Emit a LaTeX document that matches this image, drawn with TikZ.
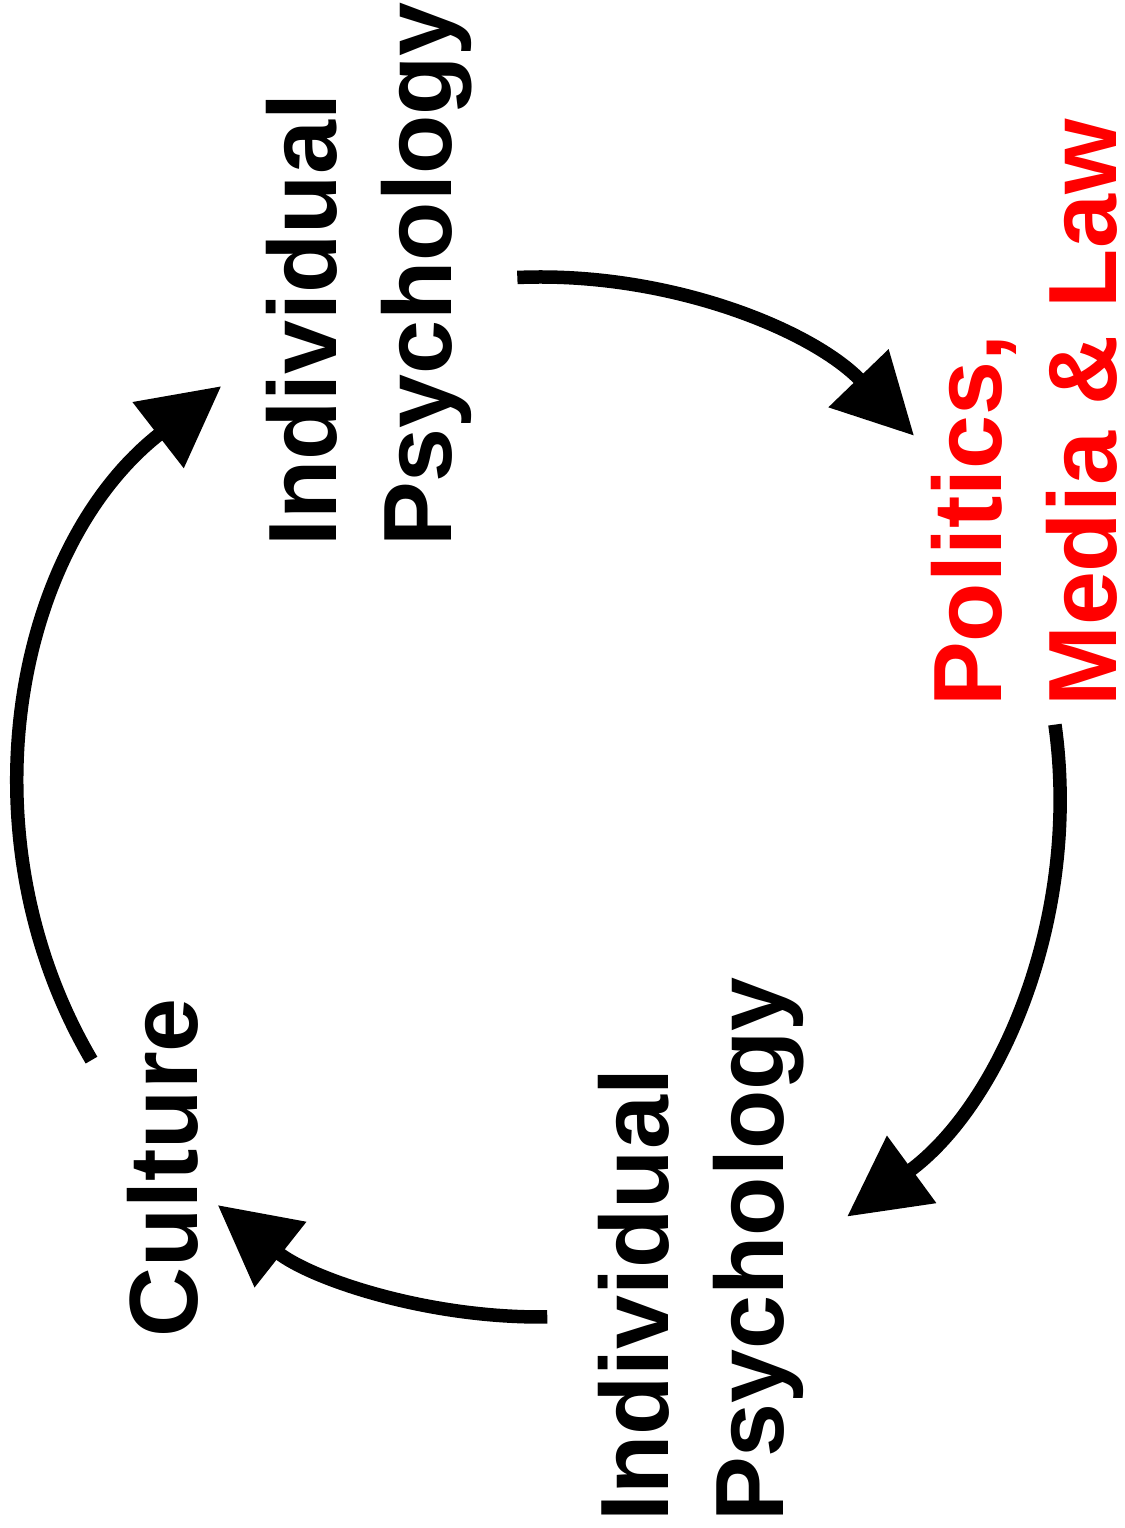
\documentclass[tikz,border=0pt]{standalone}
\usepackage{fontspec}
\setmainfont{Liberation Sans}
\usetikzlibrary{arrows.meta,calc}
\definecolor{labred}{RGB}{255,0,0}
\tikzset{
  label/.style={rotate=90, anchor=west, inner sep=0pt, align=left,
    font=\fontsize{97pt}{115pt}\selectfont\bfseries},
  flow/.style={line width=13.5pt, -{Triangle[length=80pt,width=80pt]}}
}
\begin{document}
\begin{tikzpicture}
\useasboundingbox (0,0) rectangle (1124pt,1528pt);
\node[label] (ip1) at (369pt,981pt) {Individual\\Psychology};
\node[label, text=labred] (pml) at (1024pt,821pt) {Politics,\\Media \& Law};
\node[label] (ip2) at (701pt,6pt) {Individual\\Psychology};
\node[label] (cul) at (163pt,190pt) {Culture};
\coordinate (C) at (540pt,731pt);
\coordinate (s1) at ($(C)+(92.5:520pt)$);
\coordinate (s2) at ($(C)+(8.0:520pt)$);
\coordinate (s3) at ($(C)+(-89.2:520pt)$);
\coordinate (s4) at ($(C)+(210.4:520pt)$);
\draw[flow] (s1) arc[start angle=92.5, end angle=44.0, radius=520pt];
\draw[flow] (s2) arc[start angle=8.0, end angle=-53.8, radius=520pt];
\draw[flow] (s3) arc[start angle=-89.2, end angle=-128.3, radius=520pt];
\draw[flow] (s4) arc[start angle=210.4, end angle=127.8, radius=520pt];
\end{tikzpicture}
\end{document}
